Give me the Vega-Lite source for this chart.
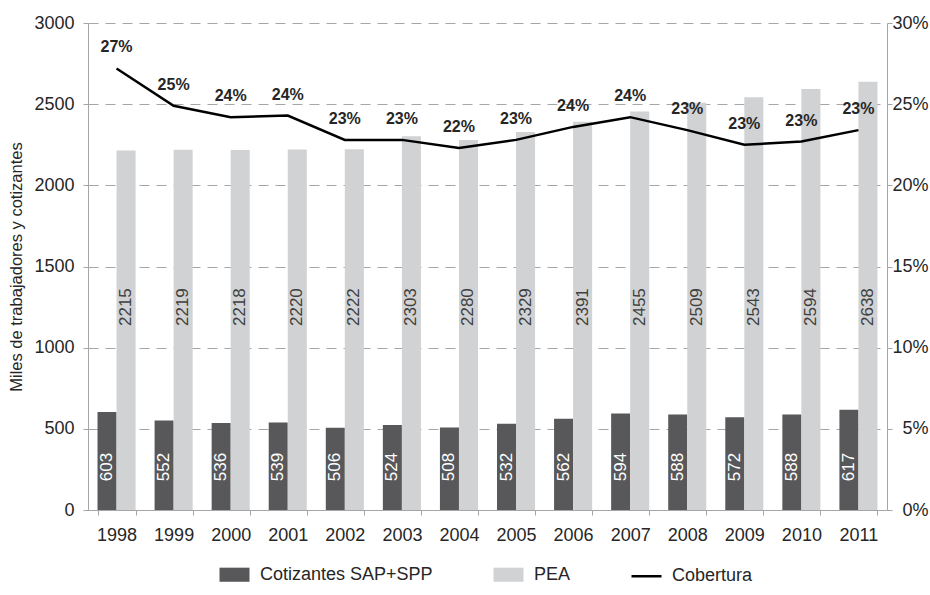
{
  "$schema": "https://vega.github.io/schema/vega-lite/v6.json",
  "width": 799,
  "height": 487,
  "autosize": {"type": "none"},
  "padding": {"left": 88, "top": 23, "right": 43, "bottom": 85},
  "background": "white",
  "datasets": {
    "barras": [
      {"anio": "1998", "serie": "Cotizantes SAP+SPP", "valor": 603},
      {"anio": "1999", "serie": "Cotizantes SAP+SPP", "valor": 552},
      {"anio": "2000", "serie": "Cotizantes SAP+SPP", "valor": 536},
      {"anio": "2001", "serie": "Cotizantes SAP+SPP", "valor": 539},
      {"anio": "2002", "serie": "Cotizantes SAP+SPP", "valor": 506},
      {"anio": "2003", "serie": "Cotizantes SAP+SPP", "valor": 524},
      {"anio": "2004", "serie": "Cotizantes SAP+SPP", "valor": 508},
      {"anio": "2005", "serie": "Cotizantes SAP+SPP", "valor": 532},
      {"anio": "2006", "serie": "Cotizantes SAP+SPP", "valor": 562},
      {"anio": "2007", "serie": "Cotizantes SAP+SPP", "valor": 594},
      {"anio": "2008", "serie": "Cotizantes SAP+SPP", "valor": 588},
      {"anio": "2009", "serie": "Cotizantes SAP+SPP", "valor": 572},
      {"anio": "2010", "serie": "Cotizantes SAP+SPP", "valor": 588},
      {"anio": "2011", "serie": "Cotizantes SAP+SPP", "valor": 617},
      {"anio": "1998", "serie": "PEA", "valor": 2215},
      {"anio": "1999", "serie": "PEA", "valor": 2219},
      {"anio": "2000", "serie": "PEA", "valor": 2218},
      {"anio": "2001", "serie": "PEA", "valor": 2220},
      {"anio": "2002", "serie": "PEA", "valor": 2222},
      {"anio": "2003", "serie": "PEA", "valor": 2303},
      {"anio": "2004", "serie": "PEA", "valor": 2280},
      {"anio": "2005", "serie": "PEA", "valor": 2329},
      {"anio": "2006", "serie": "PEA", "valor": 2391},
      {"anio": "2007", "serie": "PEA", "valor": 2455},
      {"anio": "2008", "serie": "PEA", "valor": 2509},
      {"anio": "2009", "serie": "PEA", "valor": 2543},
      {"anio": "2010", "serie": "PEA", "valor": 2594},
      {"anio": "2011", "serie": "PEA", "valor": 2638}
    ],
    "cobertura": [
      {"anio": "1998", "cob": 0.272},
      {"anio": "1999", "cob": 0.249},
      {"anio": "2000", "cob": 0.242},
      {"anio": "2001", "cob": 0.243},
      {"anio": "2002", "cob": 0.228},
      {"anio": "2003", "cob": 0.228},
      {"anio": "2004", "cob": 0.223},
      {"anio": "2005", "cob": 0.228},
      {"anio": "2006", "cob": 0.236},
      {"anio": "2007", "cob": 0.242},
      {"anio": "2008", "cob": 0.234},
      {"anio": "2009", "cob": 0.225},
      {"anio": "2010", "cob": 0.227},
      {"anio": "2011", "cob": 0.234}
    ]
  },
  "layer": [
    {
      "data": {"name": "barras"},
      "layer": [
        {
          "mark": {"type": "bar"},
          "encoding": {
            "x": {
              "field": "anio", "type": "ordinal", "title": null,
              "scale": {"paddingInner": 0.333, "paddingOuter": 0.1667},
              "axis": {"labelAngle": 0, "tickBand": "extent", "tickSize": 5, "labelPadding": 11, "grid": false}
            },
            "xOffset": {"field": "serie", "type": "nominal", "sort": ["Cotizantes SAP+SPP", "PEA"], "scale": {"paddingInner": 0, "paddingOuter": 0}},
            "y": {
              "field": "valor", "type": "quantitative",
              "scale": {"domain": [0, 3000]},
              "axis": {
                "title": "Miles de trabajadores y cotizantes", "titleFontSize": 16.5, "titleFontWeight": "normal", "titleColor": "#262626",
                "values": [0, 500, 1000, 1500, 2000, 2500, 3000], "format": "d", "grid": true, "tickSize": 5, "labelPadding": 9, "titlePadding": 9
              }
            },
            "color": {
              "field": "serie", "type": "nominal",
              "scale": {"domain": ["Cotizantes SAP+SPP", "PEA", "Cobertura"], "range": ["#58585a", "#d1d2d4", "#000000"]},
              "legend": {
                "orient": "none", "legendX": 130, "legendY": 535, "direction": "horizontal", "title": null,
                "labelFontSize": 18, "labelColor": "#262626", "labelLimit": 400, "symbolSize": 900, "columnPadding": 55, "labelOffset": 9,
                "encode": {
                  "symbols": {
                    "update": {
                      "shape": {"signal": "datum.value === 'Cobertura' ? 'M-1,0H1' : 'M-1,-0.47H1V0.47H-1Z'"},
                      "fill": {"scale": "color", "field": "value"},
                      "stroke": {"signal": "datum.value === 'Cobertura' ? '#000000' : 'transparent'"},
                      "strokeWidth": {"value": 2.5},
                      "opacity": {"value": 1}
                    }
                  }
                }
              }
            }
          }
        },
        {
          "transform": [{"filter": "datum.serie === 'Cotizantes SAP+SPP'"}],
          "mark": {"type": "text", "angle": 270, "fontSize": 17, "color": "#ffffff", "align": "center", "baseline": "middle"},
          "encoding": {
            "x": {"field": "anio", "type": "ordinal"},
            "xOffset": {"field": "serie", "type": "nominal", "sort": ["Cotizantes SAP+SPP", "PEA"]},
            "y": {"datum": 265, "type": "quantitative"},
            "text": {"field": "valor", "type": "quantitative"}
          }
        },
        {
          "transform": [{"filter": "datum.serie === 'PEA'"}],
          "mark": {"type": "text", "angle": 270, "fontSize": 17, "color": "#404040", "align": "center", "baseline": "middle"},
          "encoding": {
            "x": {"field": "anio", "type": "ordinal"},
            "xOffset": {"field": "serie", "type": "nominal", "sort": ["Cotizantes SAP+SPP", "PEA"]},
            "y": {"datum": 1250, "type": "quantitative"},
            "text": {"field": "valor", "type": "quantitative"}
          }
        }
      ]
    },
    {
      "data": {"name": "cobertura"},
      "layer": [
        {
          "mark": {"type": "line", "color": "#000000", "strokeWidth": 2.5},
          "encoding": {
            "x": {"field": "anio", "type": "ordinal"},
            "y": {
              "field": "cob", "type": "quantitative",
              "scale": {"domain": [0, 0.3]},
              "axis": {
                "orient": "right", "format": ".0%", "values": [0, 0.05, 0.1, 0.15, 0.2, 0.25, 0.3], "grid": false, "title": null,
                "labelAlign": "right", "labelPadding": 36, "tickSize": 5
              }
            }
          }
        },
        {
          "mark": {"type": "text", "dy": -21, "fontSize": 16, "fontWeight": "bold", "color": "#262626"},
          "encoding": {
            "x": {"field": "anio", "type": "ordinal"},
            "y": {"field": "cob", "type": "quantitative"},
            "text": {"field": "cob", "type": "quantitative", "format": ".0%"}
          }
        }
      ]
    }
  ],
  "resolve": {"scale": {"y": "independent"}},
  "config": {
    "font": "Liberation Sans",
    "view": {"stroke": null},
    "axis": {
      "labelFont": "Liberation Sans", "titleFont": "Liberation Sans",
      "domainColor": "#a6a6a6", "tickColor": "#a6a6a6", "gridColor": "#a6a6a6", "gridDash": [10, 7],
      "labelColor": "#262626", "labelFontSize": 18
    },
    "legend": {"labelFont": "Liberation Sans"}
  }
}
